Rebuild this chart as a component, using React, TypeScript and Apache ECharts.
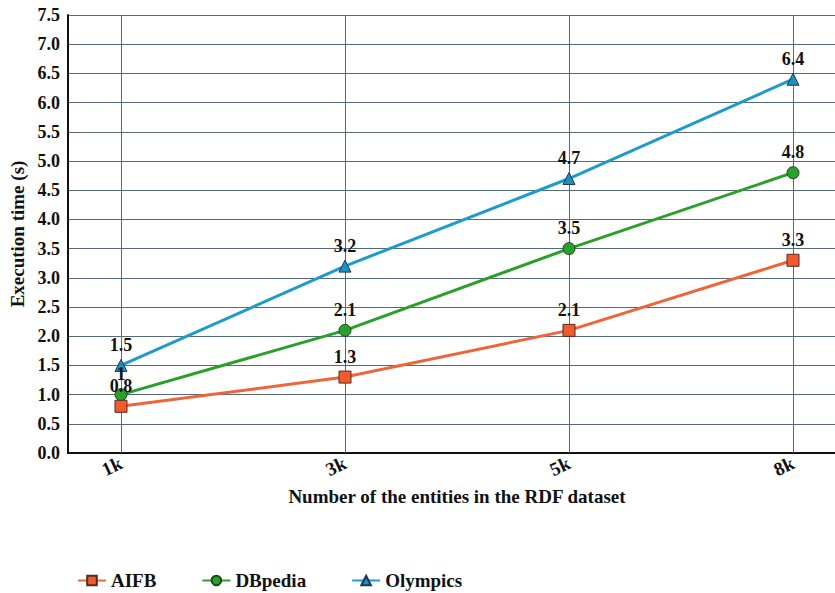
import React, { useEffect, useRef } from "react";
import * as echarts from "echarts";

const categories = ["1k", "3k", "5k", "8k"];
const categoryPositions = [1, 2, 3, 4];
const aifb = [0.8, 1.3, 2.1, 3.3];
const dbpedia = [1, 2.1, 3.5, 4.8];
const olympics = [1.5, 3.2, 4.7, 6.4];

const FONT = "'Liberation Serif', 'Times New Roman', serif";
const GRID = "#56697a";

export default function App() {
  const ref = useRef<HTMLDivElement>(null);
  useEffect(() => {
    document.body.style.margin = "0";
    const chart = echarts.init(ref.current!, null, { renderer: "svg" });
    const pts = (vals: number[]) => vals.map((v, i) => [categoryPositions[i], v]);
    const labelStyle = {
      show: true,
      position: "top" as const,
      distance: 5,
      fontFamily: FONT,
      fontWeight: "bold" as const,
      fontSize: 18,
      color: "#111",
    };
    chart.setOption({
      animation: false,
      backgroundColor: "#fff",
      grid: { left: 68, top: 15, height: 438, width: 778, outerBoundsMode: "none", containLabel: false },
      xAxis: {
        type: "value",
        min: 0.7634,
        max: 4.2366,
        name: "Number of the entities in the RDF dataset",
        nameLocation: "middle",
        nameGap: 34,
        nameTextStyle: { fontFamily: FONT, fontWeight: "bold", fontSize: 19, color: "#111" },
        axisLine: { show: true, onZero: false, lineStyle: { color: "#111", width: 2 } },
        axisTick: { show: false },
        splitLine: { show: false },
        axisLabel: {
          customValues: categoryPositions,
          formatter: (v: number) => categories[categoryPositions.indexOf(v)] ?? "",
          rotate: 25,
          margin: 9,
          fontFamily: FONT,
          fontWeight: "bold",
          fontSize: 19,
          color: "#111",
        },
      },
      yAxis: {
        type: "value",
        min: 0,
        max: 7.5,
        interval: 0.5,
        name: "Execution time (s)",
        nameLocation: "middle",
        nameGap: 40,
        nameTextStyle: { fontFamily: FONT, fontWeight: "bold", fontSize: 19, color: "#111" },
        axisLine: { show: true, lineStyle: { color: "#111", width: 2 } },
        axisTick: { show: false },
        splitLine: { show: true, lineStyle: { color: GRID, width: 1 } },
        axisLabel: {
          formatter: (v: number) => v.toFixed(1),
          margin: 8,
          fontFamily: FONT,
          fontWeight: "bold",
          fontSize: 18,
          color: "#111",
        },
      },
      legend: {
        left: 72,
        top: 566,
        itemGap: 45,
        itemWidth: 28,
        itemHeight: 12,
        textStyle: { fontFamily: FONT, fontWeight: "bold", fontSize: 19, color: "#111" },
        data: ["AIFB", "DBpedia", "Olympics"],
      },
      series: [
        {
          name: "Olympics",
          type: "line",
          data: pts(olympics),
          symbol: "triangle",
          symbolSize: 12,
          z: 3,
          lineStyle: { color: "#1f9bc9", width: 3 },
          itemStyle: { color: "#1f8fc0", borderColor: "#1b3a55", borderWidth: 1 },
          label: labelStyle,
          markLine: {
            silent: true,
            symbol: "none",
            label: { show: false },
            lineStyle: { color: GRID, width: 1, type: "solid" },
            data: categoryPositions.map((p) => ({ xAxis: p })),
            z: 1,
          },
        },
        {
          name: "DBpedia",
          type: "line",
          data: pts(dbpedia),
          symbol: "circle",
          symbolSize: 12,
          z: 4,
          lineStyle: { color: "#2aa02a", width: 3 },
          itemStyle: { color: "#2aa02a", borderColor: "#1a4a1a", borderWidth: 1 },
          label: labelStyle,
        },
        {
          name: "AIFB",
          type: "line",
          data: pts(aifb),
          symbol: "rect",
          symbolSize: 12,
          z: 5,
          lineStyle: { color: "#f0643a", width: 3 },
          itemStyle: { color: "#f05a30", borderColor: "#5a2a1a", borderWidth: 1 },
          label: labelStyle,
        },
      ],
    });
    return () => chart.dispose();
  }, []);
  return <div ref={ref} style={{ width: 835, height: 593 }} />;
}
